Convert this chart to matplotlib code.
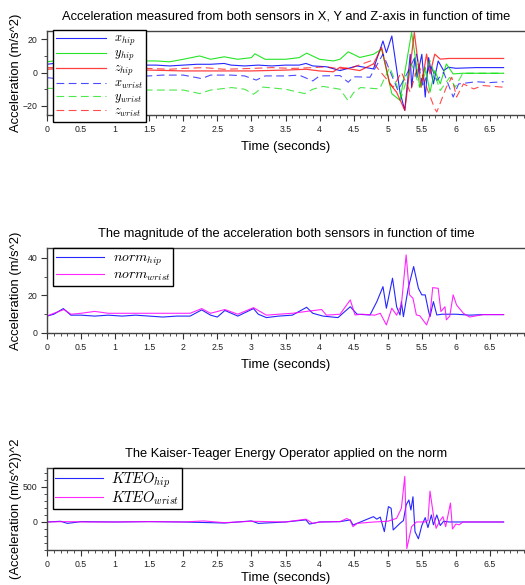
import numpy as np
import matplotlib
matplotlib.use('Agg')
import matplotlib.pyplot as plt
from matplotlib.ticker import MultipleLocator

plt.rcParams['font.family'] = ['Liberation Sans', 'DejaVu Sans']
plt.rcParams['mathtext.fontset'] = 'cm'

# --- acceleration per axis (m/s^2), each series has its own time points ---
t_xhip = [0, 0.1, 0.2, 0.3, 0.4, 0.6, 0.8, 1.0, 1.2, 1.4, 1.6, 1.8, 2.0, 2.2, 2.4, 2.6, 2.7, 2.9,
          3.1, 3.3, 3.5, 3.7, 3.8, 3.9, 4.1, 4.3, 4.55, 4.79, 4.93, 4.98, 5.06, 5.18, 5.25, 5.33,
          5.35, 5.40, 5.43, 5.50, 5.55, 5.60, 5.67, 5.74, 5.82, 5.89, 6.0, 6.3, 6.7]
x_hip = [5, 5.5, 4.5, 4, 4.5, 4, 4, 4.5, 4, 4.5, 4.5, 4, 4.5, 5, 5, 5.5, 4.5, 4,
         4.5, 4, 4.5, 4.5, 5.5, 4, 3.5, 1.2, 4, 2.2, 19, 12, 22, -11.8, -22.7, 11,
         -8.8, 9, -2.8, 11, -14.7, 9, -6.8, 7, 1.2, 3.2, 2.6, 3, 3]

t_yhip = [0, 0.1, 0.3, 0.5, 0.8, 1.0, 1.3, 1.6, 1.8, 2.0, 2.24, 2.4, 2.6, 2.8, 3.0, 3.05, 3.2,
          3.5, 3.7, 3.81, 4.0, 4.2, 4.3, 4.42, 4.59, 4.79, 4.91, 5.06, 5.18, 5.35, 5.47, 5.55,
          5.62, 5.69, 5.77, 5.86, 5.96, 6.1, 6.7]
y_hip = [6.5, 7, 7.5, 7, 7, 7.5, 7, 7, 6.5, 8, 10, 8, 9.5, 8, 9, 11.3, 8,
         8, 9, 11.7, 8, 7, 8, 12.5, 9.1, 11, 14.1, -12.7, -16.7, 24.1, -8.8, 3.2,
         -11.8, 1.2, -6.8, 5.2, -0.8, -0.4, -0.4]

t_zhip = [0, 0.2, 0.5, 0.8, 1.0, 1.5, 2.0, 2.5, 3.0, 3.5, 3.8, 4.0, 4.2, 4.3, 4.59, 4.79, 4.91,
          5.03, 5.13, 5.25, 5.39, 5.49, 5.57, 5.62, 5.69, 5.77, 5.9, 6.2, 6.7]
z_hip = [2, 2.5, 2, 2, 1.5, 1.5, 1, 1, 1, 1.5, 2, 1, 0.5, 3.2, 1.2, 5.2, 15.1,
         -6.8, -11.8, -22.7, 24.1, -8.8, 11.1, -0.8, 11.1, 8.1, 8.5, 8.5, 8.5]

t_xwrist = [0, 0.1, 0.3, 0.5, 1.0, 1.5, 1.7, 2.0, 2.27, 2.4, 2.7, 2.9, 3.07, 3.2, 3.5, 3.7, 3.9,
            4.0, 4.3, 4.42, 4.5, 4.74, 4.93, 5.01, 5.15, 5.28, 5.42, 5.52, 5.62, 5.72, 5.82,
            5.96, 6.04, 6.3, 6.5, 6.7]
x_wrist = [-3, -3.5, -2, -2, -2, -2, -1.5, -1.5, -3.6, -1.5, -1.5, -2, -4.5, -2, -2, -1.5, -5,
           -2, -1.8, -5.8, -2.5, -2.8, 11.1, 3.2, -10.8, -0.8, 11.1, -8.8, 5.2, -4.8, 0.2,
           -14.7, -6.8, -5.5, -6, -5.5]

t_ywrist = [0, 0.3, 0.6, 1.0, 1.5, 2.0, 2.24, 2.4, 2.71, 2.9, 3.03, 3.17, 3.5, 3.78, 3.9, 4.05,
            4.3, 4.42, 4.5, 4.6, 4.88, 5.03, 5.20, 5.35, 5.47, 5.62, 5.77, 5.91, 5.99, 6.1, 6.7]
y_wrist = [-9.5, -9.5, -10, -10, -10.5, -10.5, -12.6, -10.5, -9, -10, -13, -8.7, -10, -12.6, -10, -8.3,
           -10, -17, -12, -9, -9.8, 3.2, -14.7, 5.2, -8.8, 7.2, -10.8, -2.8, -8.8, -0.4, -0.4]

t_zwrist = [0, 0.2, 0.5, 1.0, 1.5, 1.8, 2.0, 2.3, 2.6, 3.0, 3.3, 3.6, 3.9, 4.1, 4.3, 4.49, 4.76,
            4.96, 5.08, 5.20, 5.33, 5.45, 5.57, 5.69, 5.72, 5.86, 5.94, 6.01, 6.11, 6.26, 6.4, 6.7]
z_wrist = [3, 3, 2.5, 2.5, 2.5, 2, 2.5, 3, 2, 2.5, 3, 2.5, 3, 3.5, 2.2, 3.2, 7.2,
           -2.8, -8.8, 0.2, -11.8, 5.2, -8.8, -21.7, -23.7, -8.8, -2.8, -14.7, -6.8, -9.8, -7.8, -8.8]

# --- norm of acceleration (m/s^2) ---
t_nhip = [0, 0.1, 0.24, 0.35, 0.5, 0.7, 0.9, 1.1, 1.3, 1.5, 1.7, 1.9, 2.1, 2.27, 2.4, 2.5, 2.61,
          2.8, 3.03, 3.1, 3.22, 3.4, 3.6, 3.81, 3.9, 4.05, 4.27, 4.45, 4.55, 4.74, 4.84, 4.93, 4.98,
          5.07, 5.13, 5.18, 5.20, 5.23, 5.30, 5.38, 5.45, 5.50, 5.55, 5.60, 5.62, 5.67, 5.72,
          5.8, 6.0, 6.2, 6.4, 6.7]
n_hip = [9, 10, 13, 9.5, 9.5, 9, 9.5, 9, 9.5, 9, 8.5, 9, 9, 12.3, 9.5, 8.5, 12,
         9, 13, 10, 8.2, 9, 9.5, 13.7, 10.5, 9, 8.2, 14, 10, 9.6, 16.7, 24.7, 13.2,
         29.2, 14, 9.6, 16.7, 8.7, 23.8, 35.4, 23.8, 20.3, 20.3, 11.4, 8.7, 16.7, 9.6,
         10, 10, 9.5, 9.8, 9.8]

t_nwrist = [0, 0.1, 0.25, 0.35, 0.5, 0.7, 0.9, 1.1, 1.3, 1.5, 1.7, 1.9, 2.1, 2.27, 2.4, 2.61,
            2.8, 3.03, 3.22, 3.4, 3.6, 3.81, 4.03, 4.1, 4.3, 4.45, 4.52, 4.62, 4.81, 4.89, 4.98,
            5.06, 5.13, 5.20, 5.27, 5.32, 5.37, 5.42, 5.47, 5.57, 5.62, 5.66, 5.74, 5.78, 5.84,
            5.86, 5.91, 5.96, 6.01, 6.11, 6.2, 6.4, 6.7]
n_wrist = [9, 10.5, 12.5, 10, 10.5, 11.5, 10.5, 10.5, 10.5, 10.5, 10.5, 10.5, 10.5, 13, 10.5, 12.5,
           10, 13.5, 9.5, 10, 10.5, 11.5, 12.5, 9.5, 10, 17.6, 9.6, 10, 9.5, 10.5, 4.3,
           13.2, 9.5, 14.9, 41.6, 20.3, 18.5, 9.6, 9.2, 4.3, 9.6, 24.2, 23.8, 11.4, 14,
           7, 9, 20.3, 14.9, 10.5, 8.5, 9.8, 9.8]

# --- Kaiser-Teager energy operator ((m/s^2)^2) ---
t_khip = [0, 0.2, 0.3, 0.5, 1.0, 1.5, 2.0, 2.6, 3.0, 3.1, 3.5, 3.8, 3.85, 4.0, 4.3, 4.45, 4.49,
          4.6, 4.79, 4.84, 4.89, 4.95, 5.01, 5.05, 5.08, 5.18, 5.23, 5.27, 5.31, 5.34, 5.37,
          5.40, 5.45, 5.50, 5.55, 5.59, 5.64, 5.67, 5.72, 5.77, 5.82, 5.9, 6.2, 6.7]
k_hip = [0, 10, -20, 5, 0, 5, 0, -15, 15, -20, 0, 30, -30, 0, 5, 29, -43,
         0, 76, 40, 70, -138, 219, 195, -114, -19, 20, 243, 314, 171, 360,
         -138, -240, -50, 62, -80, 100, -40, 100, -50, 10, 0, 0, 0]

t_kwrist = [0, 0.3, 0.6, 1.0, 1.5, 2.0, 2.3, 2.6, 3.0, 3.5, 3.8, 3.9, 4.0, 4.3, 4.4, 4.45, 4.49,
            4.55, 4.8, 5.0, 5.13, 5.20, 5.25, 5.28, 5.35, 5.42, 5.55, 5.59, 5.62, 5.67, 5.71,
            5.76, 5.81, 5.85, 5.92, 5.95, 6.0, 6.05, 6.1, 6.3, 6.7]
k_wrist = [0, 5, 0, 0, 5, 0, 15, -10, 10, 0, 40, -20, 0, 5, 50, 20, -67,
           -20, 0, 10, 52, 195, 650, -380, -67, 0, 0, 20, 440, 100, -90,
           10, 76, -67, 270, -100, -30, -40, 0, 0, 0]

time_ticks = [0, 0.5, 1, 1.5, 2, 2.5, 3, 3.5, 4, 4.5, 5, 5.5, 6, 6.5]

fig = plt.figure(figsize=(5.25, 5.85), dpi=100)

W = 0.9105
ax1 = fig.add_axes([0.0895, 0.8034, W, 0.1436])
ax2 = fig.add_axes([0.0895, 0.4308, W, 0.1453])
ax3 = fig.add_axes([0.0895, 0.0598, W, 0.1402])

dash = (0, (7, 4))
ax1.plot(t_xhip, x_hip, color='#0000ff', lw=0.8, alpha=0.85, label=r'$x_{hip}$')
ax1.plot(t_yhip, y_hip, color='#00e000', lw=0.8, alpha=0.85, label=r'$y_{hip}$')
ax1.plot(t_zhip, z_hip, color='#ff0000', lw=0.9, alpha=0.75, label=r'$z_{hip}$')
ax1.plot(t_xwrist, x_wrist, color='#0000ff', lw=0.8, alpha=0.7, ls=dash, label=r'$x_{wrist}$')
ax1.plot(t_ywrist, y_wrist, color='#00e000', lw=0.8, alpha=0.7, ls=dash, label=r'$y_{wrist}$')
ax1.plot(t_zwrist, z_wrist, color='#ff0000', lw=0.8, alpha=0.7, ls=dash, label=r'$z_{wrist}$')
ax1.set_ylim(-25.5, 25)
ax1.yaxis.set_major_locator(MultipleLocator(20))
ax1.yaxis.set_minor_locator(MultipleLocator(10))
ax1.set_title('Acceleration measured from both sensors in X, Y and Z-axis in function of time',
              fontsize=9.3, pad=8)
ax1.set_ylabel('Acceleration (m/s^2)', fontsize=9.4)
ax1.legend(loc='upper left', bbox_to_anchor=(0.0126, 1.012), borderaxespad=0, fontsize=8.9,
           fancybox=False, edgecolor='black', framealpha=1, handlelength=4.0,
           handletextpad=0.7, labelspacing=0.0, borderpad=0.25)

ax2.plot(t_nhip, n_hip, color='#0000ff', lw=0.8, alpha=0.85, label=r'$norm_{hip}$')
ax2.plot(t_nwrist, n_wrist, color='#ff00ff', lw=0.8, alpha=0.85, label=r'$norm_{wrist}$')
ax2.set_ylim(0, 45.3)
ax2.yaxis.set_major_locator(MultipleLocator(20))
ax2.yaxis.set_minor_locator(MultipleLocator(10))
ax2.set_title('The magnitude of the acceleration both sensors in function of time',
              fontsize=9.3, pad=8)
ax2.set_ylabel('Acceleration (m/s^2)', fontsize=9.4)
ax2.legend(loc='upper left', bbox_to_anchor=(0.0126, 1.0), borderaxespad=0, fontsize=10,
           fancybox=False, edgecolor='black', framealpha=1, handlelength=3.5,
           handletextpad=0.6, labelspacing=0.0, borderpad=0.2)

ax3.plot(t_khip, k_hip, color='#0000ff', lw=0.8, alpha=0.85, label=r'$KTEO_{hip}$')
ax3.plot(t_kwrist, k_wrist, color='#ff00ff', lw=0.8, alpha=0.85, label=r'$KTEO_{wrist}$')
ax3.set_ylim(-400, 770)
ax3.yaxis.set_major_locator(MultipleLocator(500))
ax3.yaxis.set_minor_locator(MultipleLocator(100))
ax3.set_title('The Kaiser-Teager Energy Operator applied on the norm', fontsize=9.3, pad=8)
ax3.set_ylabel('(Acceleration (m/s^2))^2', fontsize=9.4)
ax3.legend(loc='upper left', bbox_to_anchor=(0.0126, 1.0), borderaxespad=0, fontsize=10.5,
           fancybox=False, edgecolor='black', framealpha=1, handlelength=3.3,
           handletextpad=0.55, labelspacing=0.0, borderpad=0.15)

for ax in (ax1, ax2, ax3):
    ax.set_xlim(0, 7.014)
    ax.set_xticks(time_ticks)
    ax.set_xticklabels([('%g' % v) for v in time_ticks])
    ax.xaxis.set_minor_locator(MultipleLocator(0.1))
    ax.set_xlabel('Time (seconds)', fontsize=9.4, labelpad=5)
    ax.spines['right'].set_visible(False)
    for s in ('top', 'left', 'bottom'):
        ax.spines[s].set_color('#444444')
        ax.spines[s].set_linewidth(1.0)
    ax.tick_params(which='major', length=4, width=0.8, labelsize=6.3, colors='#333333',
                   labelcolor='#222222', pad=3)
    ax.tick_params(which='minor', length=2, width=0.6, colors='#333333')
    ax.yaxis.set_label_coords(-0.052, 0.5)

# keep the last axis label inside the picture
ax3.xaxis.labelpad = 2

fig.savefig('out.png', dpi=100)
